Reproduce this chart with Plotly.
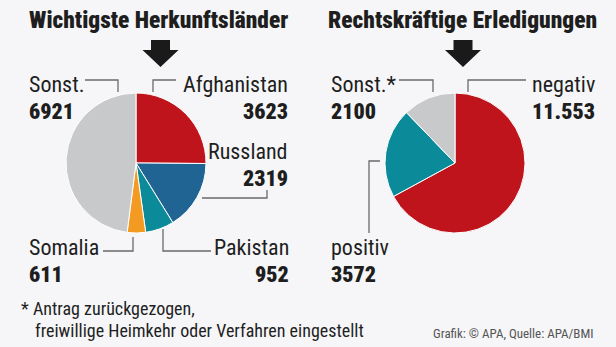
import plotly.graph_objects as go

W, H = 616, 347
BG = "#f6f6f8"

# Data
left_labels = ["Afghanistan", "Russland", "Pakistan", "Somalia", "Sonst."]
left_values = [3623, 2319, 952, 611, 6921]
left_colors = ["#c0141c", "#1f6493", "#0b8b9a", "#f39a22", "#c8c9cb"]

right_labels = ["negativ", "positiv", "Sonst.*"]
right_values = [11553, 3572, 2100]
right_value_text = ["11.553", "3572", "2100"]
right_colors = ["#c0141c", "#0b8b9a", "#c8c9cb"]

titles = ["Wichtigste Herkunftsländer", "Rechtskräftige Erledigungen"]

FONT = "Roboto Condensed, Liberation Sans Narrow, DejaVu Sans Condensed, sans-serif"
DARK = "#1e1e1e"

def dom(cx, cy, r):
    return dict(x=[(cx - r) / W, (cx + r) / W],
                y=[(H - cy - r) / H, (H - cy + r) / H])

fig = go.Figure()
fig.add_trace(go.Pie(labels=left_labels, values=left_values, sort=False,
                     direction="clockwise", rotation=0, textinfo="none",
                     hoverinfo="label+value",
                     marker=dict(colors=left_colors, line=dict(color="white", width=1)),
                     domain=dom(136, 163, 70), showlegend=False))
fig.add_trace(go.Pie(labels=right_labels, values=right_values, sort=False,
                     direction="clockwise", rotation=0, textinfo="none",
                     hoverinfo="label+value",
                     marker=dict(colors=right_colors, line=dict(color="white", width=1)),
                     domain=dom(455, 163, 70), showlegend=False))

ann = []
def txt(x, y, s, anchor="left", size=22, bold=False, color=DARK):
    ann.append(dict(x=x, y=y, xref="x", yref="y", text=s,
                    showarrow=False, xanchor=anchor, yanchor="middle",
                    font=dict(family=FONT, size=size, color=color,
                              weight=900 if bold else 400)))

# Titles
txt(158, 20, titles[0], "center", 23.4, True)
txt(462, 20, titles[1], "center", 23.4, True)

# Left labels
lv = dict(zip(left_labels, left_values))
txt(27, 84, "Sonst.")
txt(27, 111, str(lv["Sonst."]), bold=True)
txt(290, 84, "Afghanistan", "right")
txt(290, 111, str(lv["Afghanistan"]), "right", bold=True)
txt(290, 151, "Russland", "right")
txt(290, 178, str(lv["Russland"]), "right", bold=True)
txt(27, 247, "Somalia")
txt(27, 274, str(lv["Somalia"]), bold=True)
txt(291, 247, "Pakistan", "right")
txt(291, 274, str(lv["Pakistan"]), "right", bold=True)

# Right labels
txt(329, 84, "Sonst.*")
txt(329, 111, right_value_text[2], bold=True)
txt(597, 84, "negativ", "right")
txt(597, 111, right_value_text[0], "right", bold=True)
txt(329, 247, "positiv")
txt(329, 274, right_value_text[1], bold=True)

# Footnotes
txt(19, 308, "* Antrag zurückgezogen,", size=18)
txt(33, 330, "freiwillige Heimkehr oder Verfahren eingestellt", size=18)
txt(596, 333, "Grafik: © APA, Quelle: APA/BMI", "right", 13, color="#555555")

shapes = []
LC = "#6a6a6a"
def pl(pts):
    d = "M" + " L".join("%g,%g" % p for p in pts)
    shapes.append(dict(type="path", path=d, xref="x", yref="y",
                       line=dict(color=LC, width=1.3)))

# leader lines left
pl([(85, 80), (118, 80), (118, 92)])
pl([(153, 92), (153, 80), (176, 80)])
pl([(202, 198), (267, 198), (267, 190)])
pl([(163, 229), (163, 251), (211, 251)])
pl([(103, 251), (133, 251), (133, 237)])
# leader lines right
pl([(399, 80), (433, 80), (433, 92)])
pl([(468, 92), (468, 80), (526, 80)])
pl([(380, 161), (369, 161), (369, 233)])

# arrows
def arrow(cx):
    d = ("M%g,40 L%g,40 L%g,50 L%g,50 L%g,67 L%g,50 L%g,50 L%g,40 Z"
         % (cx - 9.5, cx + 9.5, cx + 9.5, cx + 18, cx, cx - 18, cx - 9.5, cx - 9.5))
    shapes.append(dict(type="path", path=d, xref="x", yref="y",
                       fillcolor="#1a1a1a", line=dict(width=0)))
arrow(160.5)
arrow(463)

fig.update_layout(
    width=W, height=H, margin=dict(l=0, r=0, t=0, b=0),
    paper_bgcolor=BG, plot_bgcolor="rgba(0,0,0,0)",
    xaxis=dict(range=[0, W], visible=False, fixedrange=True),
    yaxis=dict(range=[H, 0], visible=False, fixedrange=True),
    annotations=ann, shapes=shapes,
)
fig.write_html("out.html")
